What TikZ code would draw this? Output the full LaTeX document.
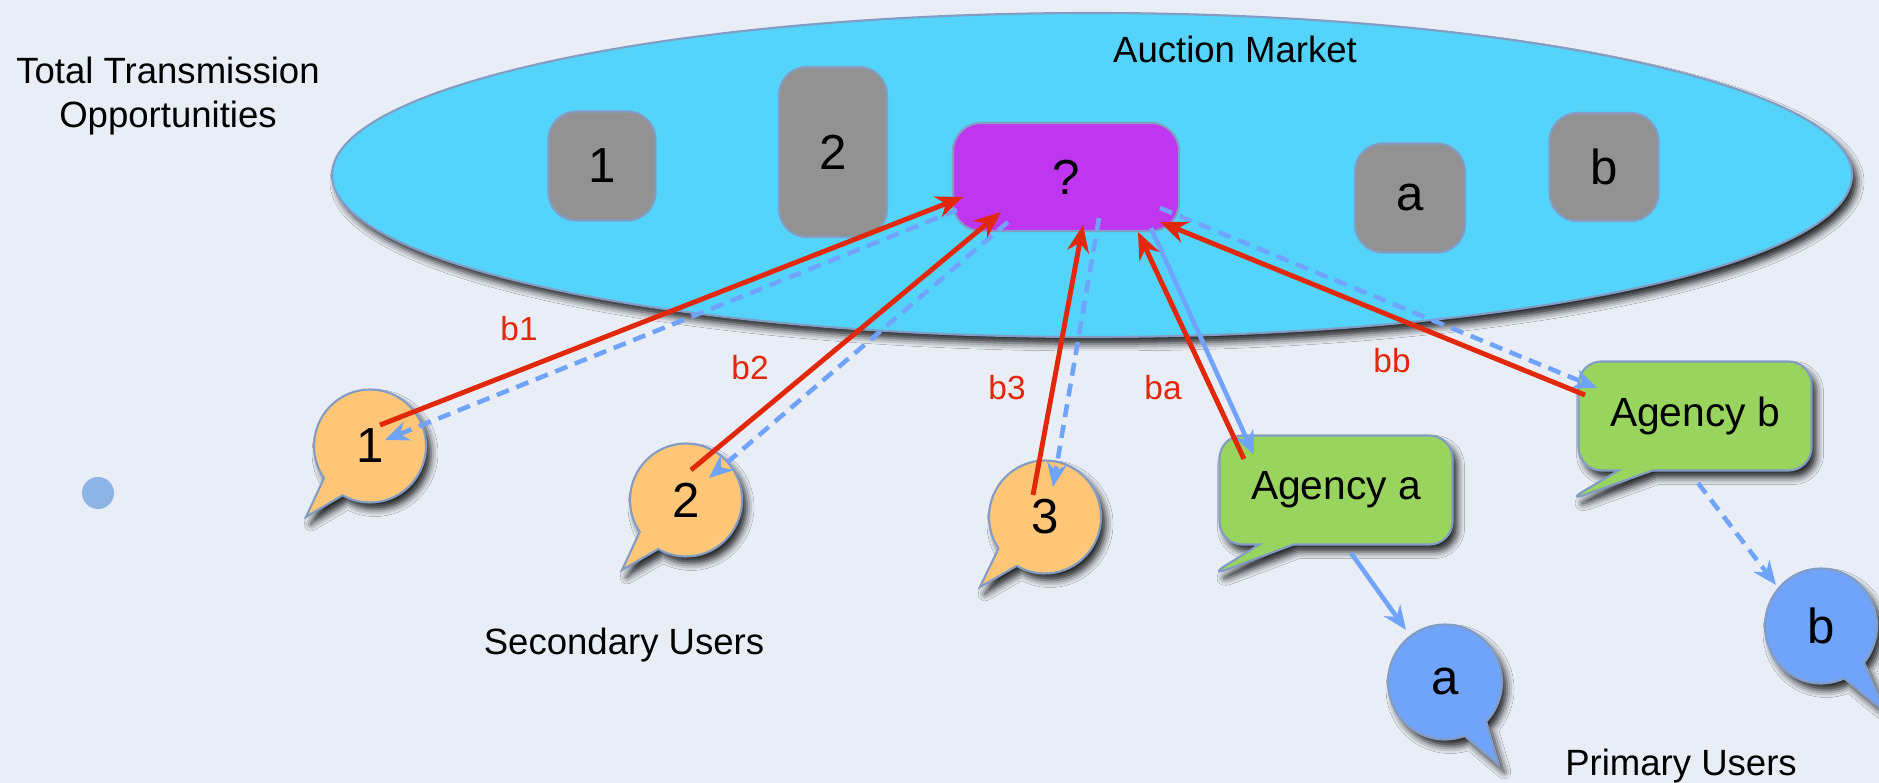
\documentclass[tikz,border=0pt]{standalone}
\usepackage{fontspec}
\setmainfont{Liberation Sans}
\usetikzlibrary{shapes.geometric,shapes.callouts,arrows.meta,shadows.blur}

\definecolor{paper}{RGB}{233,238,246}
\definecolor{marketfill}{RGB}{85,212,251}
\definecolor{rimblue}{RGB}{130,156,196}
\definecolor{slotgray}{RGB}{146,146,146}
\definecolor{askpurple}{RGB}{191,54,240}
\definecolor{userorange}{RGB}{255,198,120}
\definecolor{agencygreen}{RGB}{152,212,94}
\definecolor{primaryblue}{RGB}{112,164,250}
\definecolor{bidred}{RGB}{226,40,10}
\definecolor{replyblue}{RGB}{112,164,250}
\definecolor{dotblue}{RGB}{140,180,230}

\begin{document}
\begin{tikzpicture}[
  x=1cm,
  y=1cm,
  softshadow/.style={
    blur shadow={shadow xshift=0.5mm, shadow yshift=-0.7mm,
                 shadow blur radius=0.7mm, shadow opacity=85}
  },
  market/.style={
    ellipse,
    draw=rimblue,
    fill=marketfill,
    line width=0.6pt,
    inner sep=0pt,
    softshadow
  },
  slot/.style={
    rounded corners=2.8mm,
    draw=rimblue,
    fill=slotgray,
    line width=0.6pt,
    inner sep=0pt,
    font=\fontsize{14}{16}\selectfont
  },
  user/.style={
    ellipse callout,
    callout pointer arc=26,
    draw=rimblue,
    fill=userorange,
    line width=0.6pt,
    minimum width=11.2mm,
    minimum height=11.3mm,
    inner sep=0pt,
    font=\fontsize{14}{16}\selectfont,
    softshadow
  },
  primary/.style={user, fill=primaryblue},
  agency/.style={
    rectangle callout,
    callout pointer width=3.4mm,
    rounded corners=2.3mm,
    draw=rimblue,
    fill=agencygreen,
    line width=0.6pt,
    minimum width=23.3mm,
    minimum height=10.9mm,
    inner sep=0pt,
    font=\fontsize{11.6}{14}\selectfont,
    softshadow
  },
  bid/.style={draw=bidred, line width=1.4pt, -{Stealth[length=2.7mm,width=2.2mm]}},
  reply/.style={draw=replyblue, line width=1.3pt, -{Stealth[length=2.4mm,width=2mm]}},
  replydash/.style={reply, dash pattern=on 1.3mm off 0.8mm},
  price/.style={text=bidred, inner sep=0pt, font=\fontsize{9.5}{11}\selectfont},
  caption/.style={inner sep=0pt, font=\fontsize{10.4}{12.5}\selectfont}
]

% page: origin at the top left corner, y runs downwards (negative)
\path[use as bounding box, fill=paper] (0,0) rectangle (18.79,-7.83);

% the market and its slots
\node[market, minimum width=15.2cm, minimum height=3.24cm] (mkt) at (10.92,-1.75) {};
\node[caption] (mktlbl) at (12.35,-0.495) {Auction Market};

\node[slot, minimum width=1.07cm, minimum height=1.09cm] (o1) at ( 6.02,-1.66) {1};
\node[slot, minimum width=1.08cm, minimum height=1.70cm] (o2) at ( 8.33,-1.52) {2};
\node[slot, fill=askpurple, minimum width=2.26cm, minimum height=1.08cm] (q) at (10.66,-1.77) {?};
\node[slot, minimum width=1.10cm, minimum height=1.09cm] (oa) at (14.10,-1.98) {a};
\node[slot, minimum width=1.09cm, minimum height=1.08cm] (ob) at (16.04,-1.67) {b};

\node[caption, align=center] (ttl) at (1.68,-0.965) {Total Transmission\\Opportunities};

% secondary users
\node[circle, fill=dotblue, minimum size=3.2mm, inner sep=0pt] (dot) at (0.98,-4.93) {};

\node[user, callout absolute pointer={(3.06,-5.17)}] (u1) at ( 3.70,-4.46) {1};
\node[user, callout absolute pointer={(6.22,-5.70)}] (u2) at ( 6.86,-5.00) {2};
\node[user, callout absolute pointer={(9.80,-5.87)}] (u3) at (10.45,-5.17) {3};
\node[caption] (sec) at (6.24,-6.45) {Secondary Users};

% agencies and primary users
\node[agency, callout absolute pointer={(12.07,-5.77)}] (aga) at (13.36,-4.90) {Agency a};
\node[agency, callout absolute pointer={(15.65,-5.02)}] (agb) at (16.95,-4.16) {Agency b};

\node[primary, minimum width=11.4mm, minimum height=11.5mm,
      callout absolute pointer={(14.99,-7.65)}] (pa) at (14.45,-6.82) {a};
\node[primary, minimum height=11.5mm,
      callout absolute pointer={(18.85,-7.12)}] (pb) at (18.21,-6.26) {b};
\node[caption] (pri) at (16.81,-7.66) {Primary Users};

% bids in, answers out
\draw[replydash] ([shift={(-1.09,-0.33)}]q.center) -- ([shift={( 0.15, 0.06)}]u1.center);
\draw[replydash] ([shift={(-0.58,-0.45)}]q.center) -- ([shift={( 0.23, 0.22)}]u2.center);
\draw[replydash] ([shift={( 0.33,-0.41)}]q.center) -- ([shift={( 0.08, 0.30)}]u3.center);
\draw[reply]     ([shift={( 0.85,-0.51)}]q.center) -- ([shift={(-0.82, 0.35)}]aga.center);
\draw[replydash] ([shift={( 0.94,-0.31)}]q.center) -- ([shift={(-0.98, 0.28)}]agb.center);

\draw[bid] ([shift={( 0.10, 0.21)}]u1.center)  -- ([shift={(-1.03,-0.20)}]q.center);
\draw[bid] ([shift={( 0.05, 0.30)}]u2.center)  -- ([shift={(-0.65,-0.35)}]q.center);
\draw[bid] ([shift={(-0.12, 0.22)}]u3.center)  -- ([shift={( 0.17,-0.48)}]q.center);
\draw[bid] ([shift={(-0.92, 0.31)}]aga.center) -- ([shift={( 0.72,-0.55)}]q.center);
\draw[bid] ([shift={(-1.10, 0.21)}]agb.center) -- ([shift={( 0.94,-0.45)}]q.center);

\draw[reply]     ([shift={(0.15,-0.63)}]aga.center) -- ([shift={(-0.39,0.52)}]pa.center);
\draw[replydash] ([shift={(0.03,-0.67)}]agb.center) -- ([shift={(-0.45,0.41)}]pb.center);

\node[price] (b1) at ( 5.19,-3.29) {b1};
\node[price] (b2) at ( 7.50,-3.68) {b2};
\node[price] (b3) at (10.07,-3.88) {b3};
\node[price] (ba) at (11.63,-3.88) {ba};
\node[price] (bb) at (13.92,-3.61) {bb};

\end{tikzpicture}
\end{document}
